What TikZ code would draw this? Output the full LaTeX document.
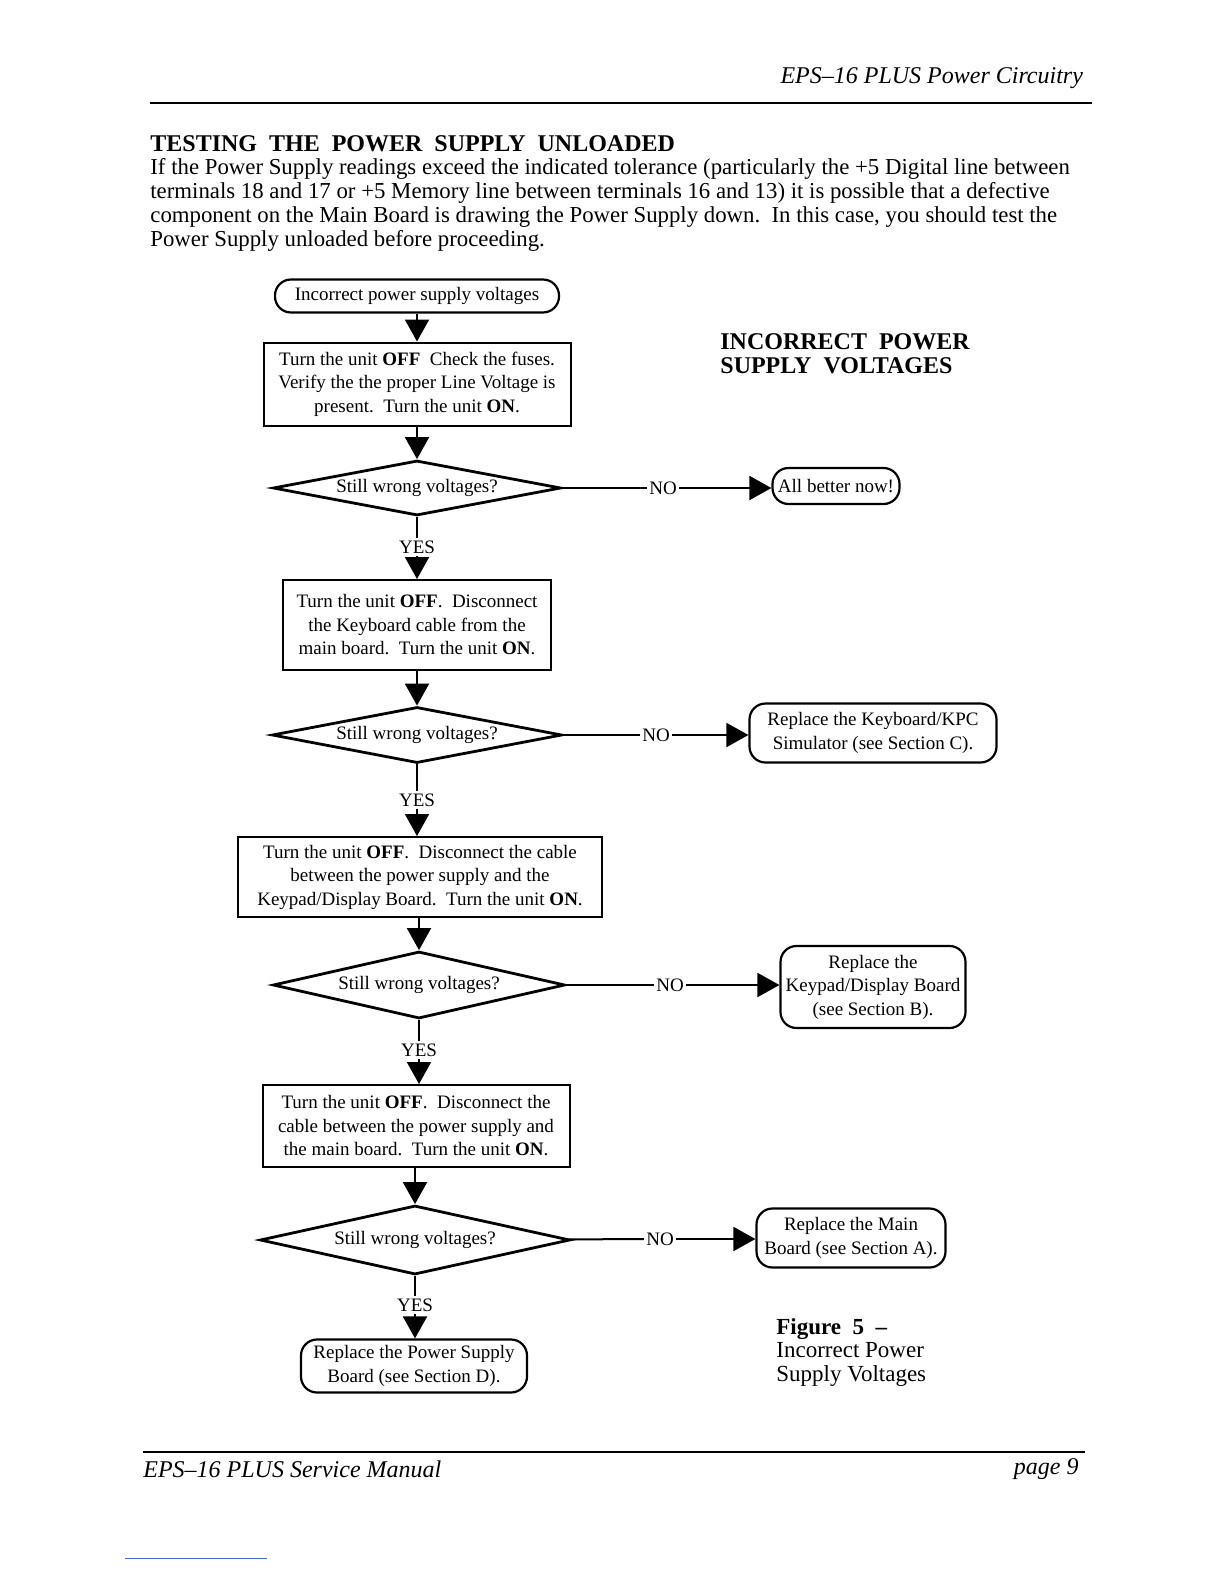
\documentclass[tikz,border=0pt]{standalone}
\usepackage{fontspec}
\setmainfont{Liberation Serif}
\usetikzlibrary{shapes.geometric,arrows.meta}
\newcommand\boxfont{\fontsize{9.5}{11.75}\selectfont}
\newcommand\bodyfont{\fontsize{11.4}{12}\selectfont}
\definecolor{linkblue}{RGB}{70,110,200}
\begin{document}
\begin{tikzpicture}[
        x=0.5pt, y=-0.5pt,
        stepbox/.style ={draw, line width=1pt, align=center, font=\boxfont, inner sep=2pt},
        ask/.style ={diamond, aspect=5.2, draw, line width=1.4pt, inner sep=0pt, font=\boxfont},
        term/.style ={draw, line width=1.1pt, rounded corners=8pt, align=center, font=\boxfont, inner sep=2pt},
        flow/.style ={line width=1pt, -{Triangle[length=11pt,width=12pt]}},
        tag/.style ={font=\boxfont, inner sep=1pt},
    ]
    \useasboundingbox (0,0) rectangle (1224,1584);

    % page header and text
    \node[anchor=east, font=\fontsize{12}{14}\selectfont\itshape] (head) at (1090,78) {EPS--16 PLUS Power Circuitry};
    \draw[line width=1.4pt] (150,103) -- (1092,103);
    \node[anchor=west, inner sep=0pt, font=\fontsize{12}{14}\selectfont\bfseries] (title) at (150,144) {TESTING\ \ THE\ \ POWER\ \ SUPPLY\ \ UNLOADED};
    \node[anchor=north west, inner sep=0pt, align=left, font=\bodyfont] (intro) at (150,158) {If the Power Supply readings exceed the indicated tolerance (particularly the +5 Digital line between\\
        terminals 18 and 17 or +5 Memory line between terminals 16 and 13) it is possible that a defective\\
        component on the Main Board is drawing the Power Supply down.\ \ In this case, you should test the\\
        Power Supply unloaded before proceeding.};
    \node[anchor=north west, inner sep=0pt, align=left, font=\fontsize{12}{12}\selectfont\bfseries] (big) at (720,333) {INCORRECT\ \ POWER\\SUPPLY\ \ VOLTAGES};

    % flow column
    \node[term, minimum width=142pt, minimum height=16.5pt] (t0) at (417,296) {Incorrect power supply voltages};
    \node[stepbox, minimum width=153.5pt, minimum height=41.5pt] (b1) at (417,384) {Turn the unit \textbf{OFF}\enspace Check the fuses.\\Verify the the proper Line Voltage is\\present.\ \ Turn the unit \textbf{ON}.};
    \node[ask, minimum width=144pt, minimum height=27.5pt] (q1) at (417,488) {Still wrong voltages?};
    \node[tag] (y1) at (417,547) {YES};
    \node[stepbox, minimum width=134pt, minimum height=45pt] (b2) at (417,625) {Turn the unit \textbf{OFF}.\ \ Disconnect\\the Keyboard cable from the\\main board.\ \ Turn the unit \textbf{ON}.};
    \node[ask, minimum width=145pt, minimum height=28pt] (q2) at (417,735) {Still wrong voltages?};
    \node[tag] (y2) at (417,800) {YES};
    \node[stepbox, minimum width=182pt, minimum height=40pt] (b3) at (420,877) {Turn the unit \textbf{OFF}.\ \ Disconnect the cable\\between the power supply and the\\Keypad/Display Board.\ \ Turn the unit \textbf{ON}.};
    \node[ask, minimum width=146pt, minimum height=33.5pt] (q3) at (419,985) {Still wrong voltages?};
    \node[tag] (y3) at (419,1050) {YES};
    \node[stepbox, minimum width=153.5pt, minimum height=41pt] (b4) at (416,1126) {Turn the unit \textbf{OFF}.\ \ Disconnect the\\cable between the power supply and\\the main board.\ \ Turn the unit \textbf{ON}.};
    \node[ask, minimum width=155pt, minimum height=34.5pt] (q4) at (415,1240) {Still wrong voltages?};
    \node[tag] (y4) at (415,1305) {YES};
    \node[term, minimum width=113pt, minimum height=26.5pt] (r5) at (414,1366) {Replace the Power Supply\\Board (see Section D).};

    % NO branch
    \node[tag] (n1) at (663,488) {NO};
    \node[term, minimum width=63.5pt, minimum height=18pt] (ok1) at (836,486) {All better now!};
    \node[tag] (n2) at (656,735) {NO};
    \node[term, minimum width=123.5pt, minimum height=29.5pt] (r2) at (873,733) {Replace the Keyboard/KPC\\Simulator (see Section C).};
    \node[tag] (n3) at (670,985) {NO};
    \node[term, minimum width=92.5pt, minimum height=41pt] (r3) at (873,987) {Replace the\\Keypad/Display Board\\(see Section B).};
    \node[tag] (n4) at (660,1239) {NO};
    \node[term, minimum width=94.5pt, minimum height=29.5pt] (r4) at (851,1238) {Replace the Main\\Board (see Section A).};

    \node[anchor=north west, inner sep=0pt, align=left, font=\fontsize{11.5}{11.75}\selectfont] (fig) at (776,1318) {\textbf{Figure\ \ 5\ \ --}\\Incorrect Power\\Supply Voltages};

    \draw[flow] (t0) -- (b1);
    \draw[flow] (b1) -- (q1);
    \draw[line width=1pt] (q1) -- (y1);
    \draw[flow] (y1) -- (b2);
    \draw[flow] (b2) -- (q2);
    \draw[line width=1pt] (q2) -- (y2);
    \draw[flow] (y2) -- (y2 |- b3.north);
    \draw[flow] (b3.south -| q3) -- (q3);
    \draw[line width=1pt] (q3) -- (y3);
    \draw[flow] (y3) -- (y3 |- b4.north);
    \draw[flow] (b4.south -| q4) -- (q4);
    \draw[line width=1pt] (q4) -- (y4);
    \draw[flow] (y4) -- (y4 |- r5.north);

    \draw[line width=1pt] (q1) -- (n1);
    \draw[flow] (n1) -- (n1 -| ok1.west);
    \draw[line width=1pt] (q2) -- (n2);
    \draw[flow] (n2) -- (n2 -| r2.west);
    \draw[line width=1pt] (q3) -- (n3);
    \draw[flow] (n3) -- (n3 -| r3.west);
    \draw[line width=1pt] (q4) -- (n4);
    \draw[flow] (n4) -- (n4 -| r4.west);

    % page footer
    \draw[line width=1.4pt] (143,1452) -- (1085,1452);
    \node[anchor=west, inner sep=0pt, font=\fontsize{12}{14}\selectfont\itshape] (foot) at (143,1469) {EPS--16 PLUS Service Manual};
    \node[anchor=east, inner sep=0pt, font=\fontsize{12}{14}\selectfont\itshape] (page) at (1079,1469) {page 9};
    \draw[linkblue, line width=0.5pt] (125,1558) -- (267,1558);
\end{tikzpicture}
\end{document}
